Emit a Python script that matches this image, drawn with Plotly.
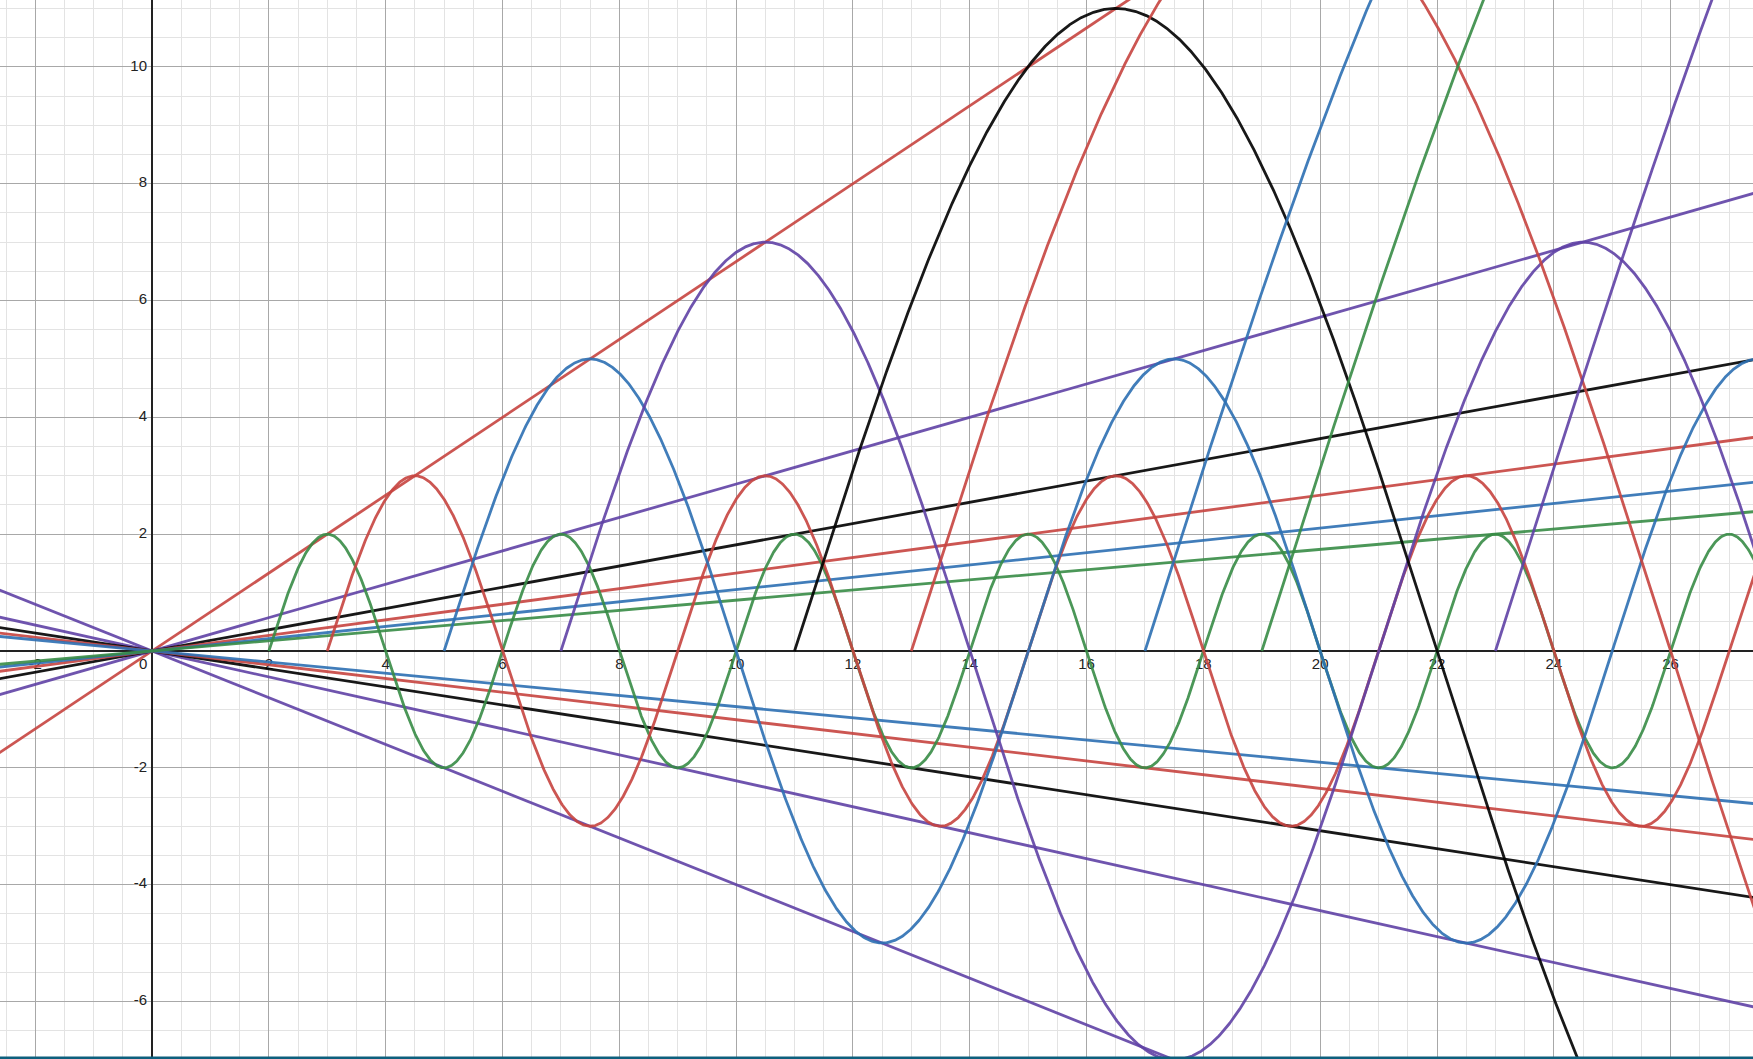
import numpy as np
import plotly.graph_objects as go

# ---- data ----
# sine arches: y = -p*sin(pi*x/p) for x >= p  (amplitude p, starts at x=p, half period p)
wave_primes = [2, 3, 5, 7, 11, 13, 17, 19, 23]
wave_colors = ["#388c46", "#c74440", "#2d70b3", "#6042a6", "#000000",
               "#c74440", "#2d70b3", "#388c46", "#6042a6"]

# straight lines through the origin: y = 2x / d (positive) and y = -2x / d (negative)
pos_line_denoms = [3, 7, 11, 15, 19, 23]
pos_line_colors = ["#c74440", "#6042a6", "#000000", "#c74440", "#2d70b3", "#388c46"]
neg_line_denoms = [5, 9, 13, 17, 21]
neg_line_colors = ["#6042a6", "#6042a6", "#000000", "#c74440", "#2d70b3"]

x_tick_values = [-2, 0, 2, 4, 6, 8, 10, 12, 14, 16, 18, 20, 22, 24, 26]
x_tick_labels = ["-2", "0", "2", "4", "6", "8", "10", "12", "14", "16", "18", "20", "22", "24", "26"]
y_tick_values = [-6, -4, -2, 2, 4, 6, 8, 10]
y_tick_labels = ["-6", "-4", "-2", "2", "4", "6", "8", "10"]

X_RANGE = [-2.603, 27.41]
Y_RANGE = [-6.985, 11.145]
W, H = 1753, 1059
PX_PER_UNIT = W / (X_RANGE[1] - X_RANGE[0])

fig = go.Figure()

# tick labels (drawn first so curves pass over them, as in the reference)
label_font = dict(family="Liberation Sans, Arial, sans-serif", size=15, color="#222222",
                  shadow="0px 0px 3px white")
xl_x = [v - (0.15 if v == 0 else 0.0) for v in x_tick_values]
fig.add_trace(go.Scatter(
    x=xl_x, y=[-14 / PX_PER_UNIT] * len(x_tick_values), text=x_tick_labels,
    mode="text", textposition="middle center", textfont=label_font,
    hoverinfo="skip", showlegend=False))
fig.add_trace(go.Scatter(
    x=[-5 / PX_PER_UNIT] * len(y_tick_values), y=y_tick_values, text=y_tick_labels,
    mode="text", textposition="middle left", textfont=label_font,
    hoverinfo="skip", showlegend=False))

LW = 2.8
OP = 0.9

# lines through origin
xl = np.array([X_RANGE[0] - 1, X_RANGE[1] + 1])
for d, c in zip(neg_line_denoms, neg_line_colors):
    fig.add_trace(go.Scatter(x=xl, y=-2 * xl / d, mode="lines",
                             line=dict(color=c, width=LW), opacity=OP,
                             hoverinfo="skip", showlegend=False))
for d, c in zip(pos_line_denoms, pos_line_colors):
    fig.add_trace(go.Scatter(x=xl, y=2 * xl / d, mode="lines",
                             line=dict(color=c, width=LW), opacity=OP,
                             hoverinfo="skip", showlegend=False))

# sine arches
for p, c in zip(wave_primes, wave_colors):
    xs = np.linspace(p, X_RANGE[1] + 0.5, 2000)
    ys = -p * np.sin(np.pi * xs / p)
    fig.add_trace(go.Scatter(x=xs, y=ys, mode="lines",
                             line=dict(color=c, width=LW, shape="linear"), opacity=OP,
                             hoverinfo="skip", showlegend=False))

axis_common = dict(
    showgrid=True, gridcolor="#a8a8a8", gridwidth=1.2,
    dtick=2, tick0=0,
    minor=dict(dtick=0.5, tick0=0, showgrid=True, gridcolor="#e3e3e3", gridwidth=1.2),
    zeroline=True, zerolinecolor="#222222", zerolinewidth=2,
    showticklabels=False, ticks="", showline=False, fixedrange=True,
)

fig.update_layout(
    width=W, height=H,
    margin=dict(l=0, r=0, t=0, b=0, pad=0),
    paper_bgcolor="white", plot_bgcolor="white",
    xaxis=dict(range=X_RANGE, **axis_common),
    yaxis=dict(range=Y_RANGE, **axis_common),
    showlegend=False,
    shapes=[dict(type="line", xref="paper", yref="paper", x0=0, x1=1, y0=0.001, y1=0.001,
                 line=dict(color="#0d5f7d", width=3), layer="above")],
)

fig.write_html("out.html", config={"displayModeBar": False},
               post_script="document.body.style.margin='0';document.body.style.overflow='hidden';")
